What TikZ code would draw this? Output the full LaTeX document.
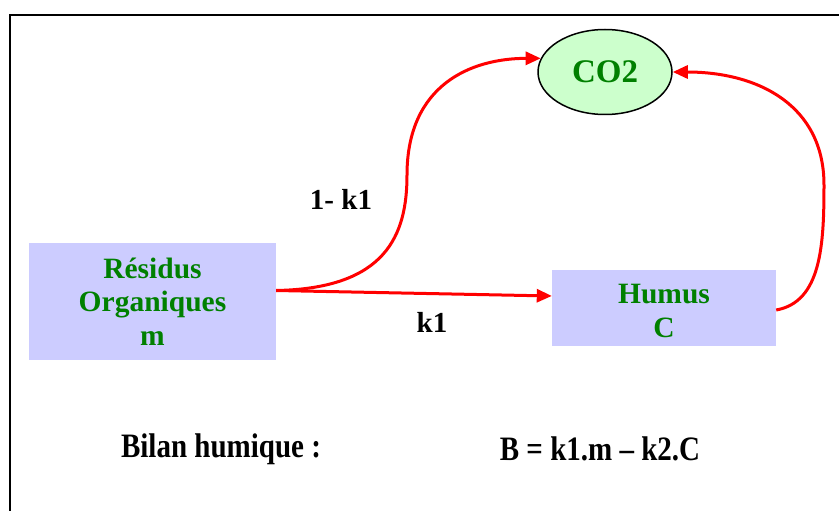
\documentclass[tikz,border=0pt]{standalone}
\usepackage{fontspec}
\setmainfont{Liberation Serif}
\usetikzlibrary{shapes.geometric,arrows.meta,calc}
\definecolor{boxfill}{HTML}{CCCCFF}
\definecolor{ellfill}{HTML}{CCFFCC}
\definecolor{txtgreen}{HTML}{008000}
\newcommand\vstretch[1]{\scalebox{1}[1.18]{#1}}
\tikzset{
  box/.style={fill=boxfill, inner sep=0pt, align=center, text=txtgreen,
    font=\bfseries\fontsize{29.5}{33.5}\selectfont},
  boxtext/.style={inner sep=0pt, align=center, text=txtgreen,
    font=\bfseries\fontsize{29.5}{33.5}\selectfont},
  ell/.style={ellipse, draw=black, line width=1.5pt, fill=ellfill, inner sep=0pt,
    text=txtgreen, font=\bfseries\fontsize{33}{36}\selectfont},
  flow/.style={draw=red, line width=3pt, -{Triangle[length=15pt,width=13pt]}},
  lbl/.style={font=\bfseries\fontsize{29}{32}\selectfont, inner sep=0pt},
}
\begin{document}
\begin{tikzpicture}[x=1pt,y=-1pt]
\useasboundingbox (0,0) rectangle (839,511);
\draw[line width=2pt] (10,511) -- (10,15) -- (839,15);
\node[box, minimum width=247pt, minimum height=117pt] (res) at (152.5,301.5) {Résidus\\Organiques\\m};
\node[box, minimum width=224pt, minimum height=76pt] (hum) at (664,308) {};
\node[boxtext] (humt) at (664,311) {Humus\\C};
\node[ell, minimum width=134pt, minimum height=85pt] (co) at (605,72) {CO2};
\node[lbl] (l1) at (341,199) {1- k1};
\node[lbl] (l2) at (432,322) {k1};
\node[lbl] (bil) at (221,449) {\vstretch{Bilan humique :}};
\node[lbl] (eq) at (600,449) {\vstretch{B = k1.m – k2.C}};
\draw[flow] ([yshift=11pt]res.east) .. controls +(110,-2) and +(0,60) .. (407,175)
  .. controls +(0,-90) and +(-70,0) .. (co.168);
\draw[flow] ([yshift=11pt]res.east) -- ([yshift=12pt]hum.west);
\draw[flow] ([yshift=-2pt]hum.east) .. controls +(45,-8) and +(0,60) .. (824,185)
  .. controls +(0,-80) and +(85,0) .. (co.east);
\end{tikzpicture}
\end{document}
